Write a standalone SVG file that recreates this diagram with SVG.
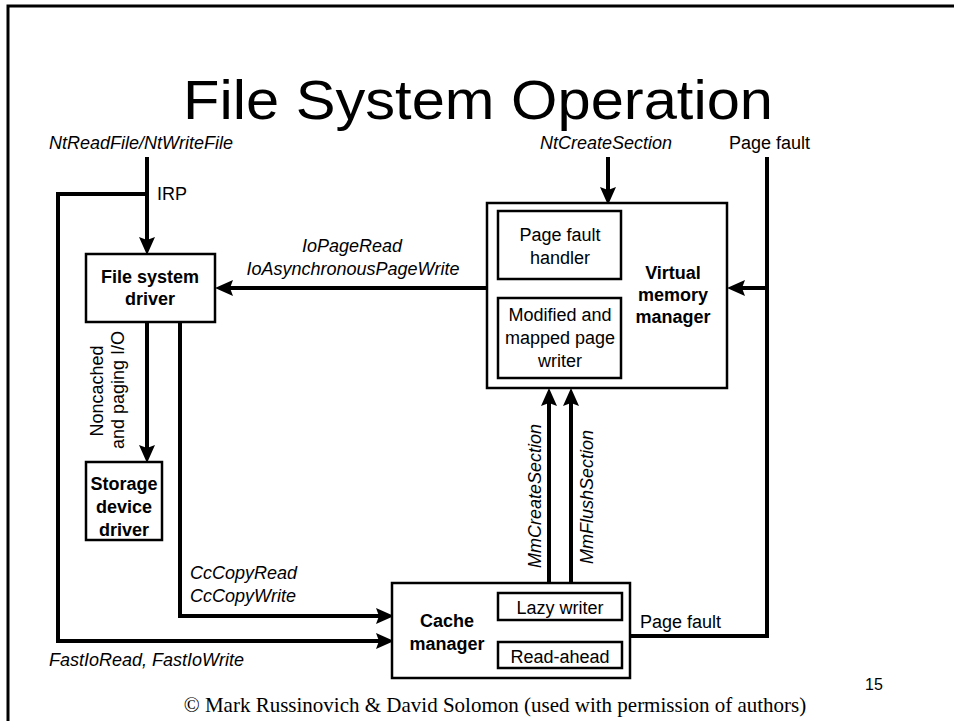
<svg xmlns="http://www.w3.org/2000/svg" width="954" height="721" viewBox="0 0 954 721">
<style>
.t{font-family:"Liberation Sans",Arial,sans-serif;font-size:18px;fill:#000}
.i{font-style:italic}
.b{font-weight:bold}
.m{text-anchor:middle}
.box{fill:#fff;stroke:#000;stroke-width:2.5}
.c{fill:none;stroke:#000;stroke-width:4}
</style>
<defs>
<marker id="ah" markerUnits="userSpaceOnUse" markerWidth="18" markerHeight="16" viewBox="0 0 18 16" refX="6" refY="8" orient="auto">
<path d="M0,0 L18,8 L0,16 L3,8 z" fill="#000"/>
</marker>
</defs>
<rect width="954" height="721" fill="#fff"/>
<path d="M8,721 V6 H954" fill="none" stroke="#000" stroke-width="3"/>
<text x="478" y="119" font-family="Liberation Sans,Arial,sans-serif" font-size="55" text-anchor="middle" textLength="590" lengthAdjust="spacingAndGlyphs">File System Operation</text>

<g id="connectors">
<path class="c" d="M147,157 V243" marker-end="url(#ah)"/>
<path class="c" d="M147,194 H58 V641 H382" marker-end="url(#ah)"/>
<path class="c" d="M487,288 H227" marker-end="url(#ah)"/>
<path class="c" d="M147,322 V451" marker-end="url(#ah)"/>
<path class="c" d="M180,322 V616 H382" marker-end="url(#ah)"/>
<path class="c" d="M608,157 V193" marker-end="url(#ah)"/>
<path class="c" d="M630,636 H767 V157"/>
<path class="c" d="M767,288 H739" marker-end="url(#ah)"/>
<path class="c" d="M549,583 V400" marker-end="url(#ah)"/>
<path class="c" d="M571,583 V400" marker-end="url(#ah)"/>
</g>

<g id="labels">
<text class="t i" x="49" y="149">NtReadFile/NtWriteFile</text>
<text class="t" x="157" y="200">IRP</text>
<text class="t i m" x="352" y="252">IoPageRead</text>
<text class="t i m" x="353" y="275">IoAsynchronousPageWrite</text>
<text class="t i" x="540" y="149">NtCreateSection</text>
<text class="t" x="729" y="149">Page fault</text>
<text class="t m" transform="translate(103,391) rotate(-90)">Noncached</text>
<text class="t m" transform="translate(124,390) rotate(-90)">and paging I/O</text>
<text class="t i" x="190" y="579">CcCopyRead</text>
<text class="t i" x="190" y="602">CcCopyWrite</text>
<text class="t i m" transform="translate(541,496) rotate(-90)">MmCreateSection</text>
<text class="t i m" transform="translate(593,497) rotate(-90)">MmFlushSection</text>
<text class="t" x="640" y="628">Page fault</text>
<text class="t i" x="49" y="666">FastIoRead, FastIoWrite</text>
</g>

<g id="fsd">
<rect class="box" x="86" y="254" width="129" height="68"/>
<text class="t b m" x="150" y="283">File system</text>
<text class="t b m" x="150" y="305">driver</text>
</g>

<g id="storage">
<rect class="box" x="86" y="462" width="76" height="78"/>
<text class="t b m" x="124" y="490">Storage</text>
<text class="t b m" x="124" y="513">device</text>
<text class="t b m" x="124" y="536">driver</text>
</g>

<g id="vmm">
<rect class="box" x="487" y="203" width="240" height="185"/>
<text class="t b m" x="673" y="279">Virtual</text>
<text class="t b m" x="673" y="301">memory</text>
<text class="t b m" x="673" y="323">manager</text>
</g>

<g id="pfh">
<rect class="box" x="498" y="211" width="123" height="68"/>
<text class="t m" x="560" y="241">Page fault</text>
<text class="t m" x="560" y="264">handler</text>
</g>

<g id="mmpw">
<rect class="box" x="498" y="298" width="123" height="80"/>
<text class="t m" x="560" y="321">Modified and</text>
<text class="t m" x="560" y="344">mapped page</text>
<text class="t m" x="560" y="367">writer</text>
</g>

<g id="cache">
<rect class="box" x="392" y="583" width="238" height="95"/>
<text class="t b m" x="447" y="627">Cache</text>
<text class="t b m" x="447" y="650">manager</text>
</g>

<g id="lazy">
<rect class="box" x="498" y="593" width="124" height="27"/>
<text class="t m" x="560" y="614">Lazy writer</text>
</g>

<g id="readahead">
<rect class="box" x="498" y="642" width="124" height="26"/>
<text class="t m" x="560" y="663">Read-ahead</text>
</g>

<text x="865" y="690" font-family="Liberation Sans,Arial,sans-serif" font-size="16">15</text>
<text x="495" y="712" font-family="Liberation Serif,Times New Roman,serif" font-size="21" text-anchor="middle">© Mark Russinovich &amp; David Solomon (used with permission of authors)</text>
</svg>
